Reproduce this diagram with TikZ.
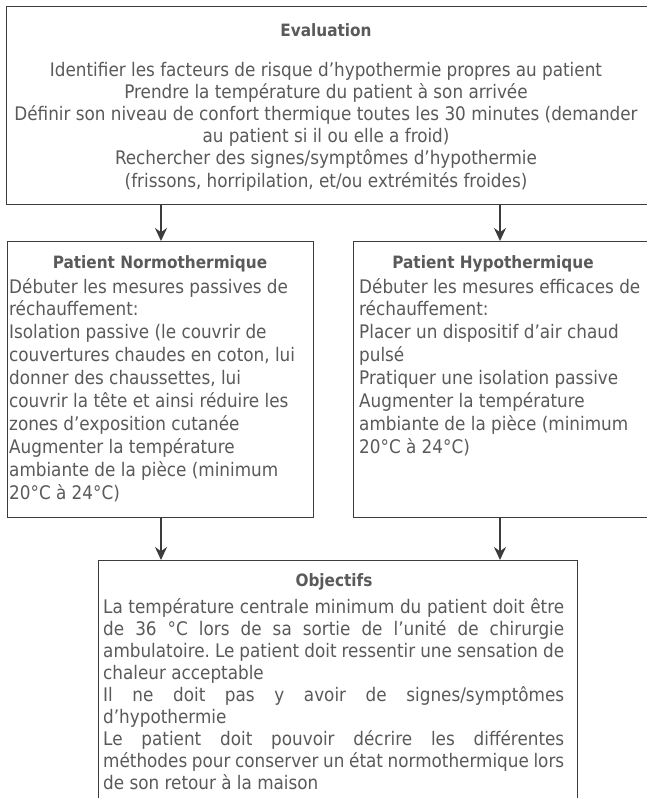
\documentclass[tikz,border=0pt]{standalone}
\usepackage{fontspec}
\setmainfont{DejaVu Sans Condensed}
\usetikzlibrary{arrows.meta}
\definecolor{txt}{HTML}{5A5A5A}
\definecolor{edge}{HTML}{3C3C3C}
\frenchspacing
\begin{document}
\begin{tikzpicture}[x=1pt,y=-1pt,
  box/.style={draw=edge, line width=1.2pt, inner sep=0pt, anchor=north west},
  tline/.style={text=txt, inner sep=0pt, font=\fontsize{18.7}{22}\selectfont},
  ttl/.style={tline, font=\fontsize{17}{20}\selectfont\bfseries},
  arr/.style={draw=edge, line width=1.8pt, -{Stealth[length=13pt,width=12pt]}}]
\useasboundingbox (0,0) rectangle (647,798);
\clip (0,0) rectangle (647,798);
\fill[white] (0,0) rectangle (647,798);
% boxes
\node[box, minimum width=644pt, minimum height=198pt] (eval) at (6,6) {};
\node[box, minimum width=306pt, minimum height=276pt] (lbox) at (7,241) {};
\node[box, minimum width=300pt, minimum height=276pt] (rbox) at (353,241) {};
\node[box, minimum width=479pt, minimum height=260pt] (obj) at (98,560) {};
% arrows
\coordinate (ax1) at (161,0);
\coordinate (ax2) at (500,0);
\draw[arr] (ax1 |- eval.south) -- (ax1 |- lbox.north);
\draw[arr] (ax2 |- eval.south) -- (ax2 |- rbox.north);
\draw[arr] (ax1 |- lbox.south) -- (ax1 |- obj.north);
\draw[arr] (ax2 |- rbox.south) -- (ax2 |- obj.north);
% Evaluation
\node[ttl, anchor=base] (et) at (326,36) {Evaluation};
\foreach \s [count=\i from 0] in {
  {Identifier les facteurs de risque d’hypothermie propres au patient},
  {Prendre la température du patient à son arrivée},
  {Définir son niveau de confort thermique toutes les 30 minutes (demander},
  {au patient si il ou elle a froid)},
  {Rechercher des signes/symptômes d’hypothermie},
  {(frissons, horripilation, et/ou extrémités froides)}}
  \node[tline, anchor=base] (e\i) at (326,76+\i*22.2) {\s};
% Patient Normothermique
\node[ttl, anchor=base] (lt) at (160,268) {Patient Normothermique};
\foreach \s [count=\i from 0] in {
  {Débuter les mesures passives de},
  {réchauffement:},
  {Isolation passive (le couvrir de},
  {couvertures chaudes en coton, lui},
  {donner des chaussettes, lui},
  {couvrir la tête et ainsi réduire les},
  {zones d’exposition cutanée},
  {Augmenter la température},
  {ambiante de la pièce (minimum},
  {20°C à 24°C)}}
  \node[tline, anchor=base west] (l\i) at (9,293+\i*22.9) {\s};
% Patient Hypothermique
\node[ttl, anchor=base] (rt) at (493,268) {Patient Hypothermique};
\foreach \s [count=\i from 0] in {
  {Débuter les mesures efficaces de},
  {réchauffement:},
  {Placer un dispositif d’air chaud},
  {pulsé},
  {Pratiquer une isolation passive},
  {Augmenter la température},
  {ambiante de la pièce (minimum},
  {20°C à 24°C)}}
  \node[tline, anchor=base west] (r\i) at (359,293+\i*22.9) {\s};
% Objectifs
\node[ttl, anchor=base] (ot) at (334,586) {Objectifs};
\foreach \s [count=\i from 0] in {
  {\makebox[461pt][s]{La température centrale minimum du patient doit être}},
  {\makebox[461pt][s]{de 36 °C lors de sa sortie de l’unité de chirurgie}},
  {\makebox[461pt][s]{ambulatoire. Le patient doit ressentir une sensation de}},
  {chaleur acceptable},
  {\makebox[461pt][s]{Il ne doit pas y avoir de signes/symptômes}},
  {d’hypothermie},
  {\makebox[461pt][s]{Le patient doit pouvoir décrire les différentes}},
  {\makebox[461pt][s]{méthodes pour conserver un état normothermique lors}},
  {de son retour à la maison}}
  \node[tline, anchor=base west] (o\i) at (103,613+\i*22.1) {\s};
\end{tikzpicture}
\end{document}
